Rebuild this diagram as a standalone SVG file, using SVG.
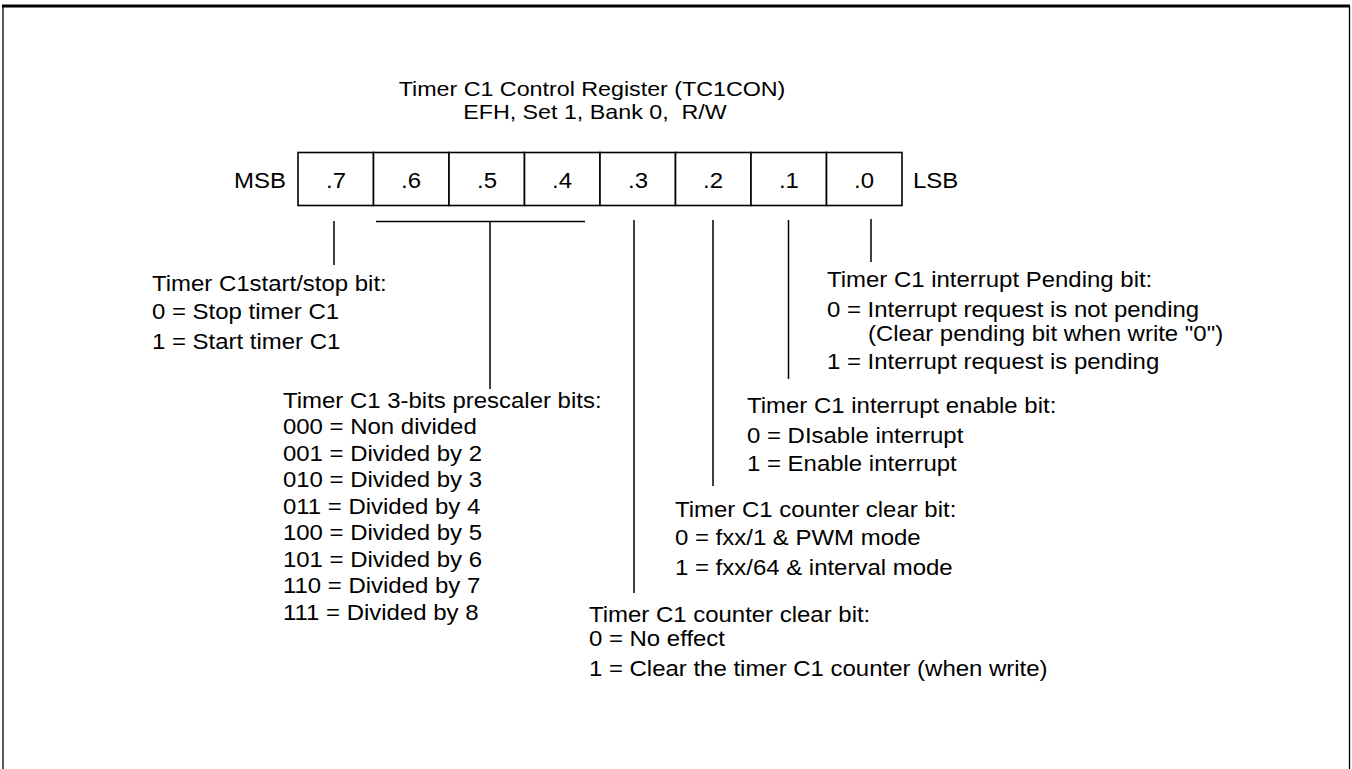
<svg xmlns="http://www.w3.org/2000/svg" width="1352" height="769" viewBox="0 0 1352 769">
<style>
text{font-family:"Liberation Sans",Arial,sans-serif;font-size:22.5px;fill:#000}
.t{font-size:20.5px}
.c{text-anchor:middle}
.cell{fill:#fff;stroke:#000;stroke-width:1.6}
.ln{stroke:#000;stroke-width:1.5;fill:none}
.fr{stroke:#000;fill:none}
</style>
<rect width="1352" height="769" fill="#fff"/>
<g id="frame">
<line class="fr" x1="2" y1="6" x2="1350" y2="6" stroke-width="3"/>
<line class="fr" x1="3" y1="6" x2="3" y2="769" stroke-width="1.3"/>
<line class="fr" x1="1349.5" y1="6" x2="1349.5" y2="769" stroke-width="1.3"/>
</g>
<g id="title" transform="scale(1.135,1)">
<text class="t c" x="521.6" y="96.5">Timer C1 Control Register (TC1CON)</text>
<text class="t c" x="524.2" y="119.5" xml:space="preserve">EFH, Set 1, Bank 0,  R/W</text>
</g>
<g id="register">
<rect class="cell" x="298" y="152.5" width="75.5" height="53"/>
<rect class="cell" x="373.5" y="152.5" width="75.5" height="53"/>
<rect class="cell" x="449" y="152.5" width="75.5" height="53"/>
<rect class="cell" x="524.5" y="152.5" width="75.5" height="53"/>
<rect class="cell" x="600" y="152.5" width="75.5" height="53"/>
<rect class="cell" x="675.5" y="152.5" width="75.5" height="53"/>
<rect class="cell" x="751" y="152.5" width="75.5" height="53"/>
<rect class="cell" x="826.5" y="152.5" width="75.5" height="53"/>
<g transform="scale(1.065,1)">
<text x="268.5" y="188" text-anchor="end">MSB</text>
<text class="c" x="315.5" y="188">.7</text>
<text class="c" x="385.9" y="188">.6</text>
<text class="c" x="457.3" y="188">.5</text>
<text class="c" x="527.7" y="188">.4</text>
<text class="c" x="599.1" y="188">.3</text>
<text class="c" x="669.5" y="188">.2</text>
<text class="c" x="740.8" y="188">.1</text>
<text class="c" x="811.3" y="188">.0</text>
<text x="857.3" y="188">LSB</text>
</g>
</g>
<g id="connectors">
<line class="ln" x1="334" y1="221" x2="334" y2="265"/>
<line class="ln" x1="376" y1="221.5" x2="585" y2="221.5"/>
<line class="ln" x1="490" y1="221.5" x2="490" y2="389"/>
<line class="ln" x1="634" y1="220" x2="634" y2="593"/>
<line class="ln" x1="713" y1="220" x2="713" y2="486"/>
<line class="ln" x1="788.5" y1="220" x2="788.5" y2="379"/>
<line class="ln" x1="871" y1="219" x2="871" y2="262"/>
</g>
<g transform="scale(1.065,1)">
<g id="bit7">
<text x="142.7" y="291">Timer C1start/stop bit:</text>
<text x="142.7" y="319">0 = Stop timer C1</text>
<text x="142.7" y="349">1 = Start timer C1</text>
</g>
<g id="bits6-4">
<text x="265.7" y="408">Timer C1 3-bits prescaler bits:</text>
<text x="265.7" y="434">000 = Non divided</text>
<text x="265.7" y="461">001 = Divided by 2</text>
<text x="265.7" y="487.5">010 = Divided by 3</text>
<text x="265.7" y="514">011 = Divided by 4</text>
<text x="265.7" y="540.5">100 = Divided by 5</text>
<text x="265.7" y="567">101 = Divided by 6</text>
<text x="265.7" y="593.5">110 = Divided by 7</text>
<text x="265.7" y="620">111 = Divided by 8</text>
</g>
<g id="bit3">
<text x="553" y="622">Timer C1 counter clear bit:</text>
<text x="553" y="646">0 = No effect</text>
<text x="553" y="676">1 = Clear the timer C1 counter (when write)</text>
</g>
<g id="bit2">
<text x="633.8" y="517">Timer C1 counter clear bit:</text>
<text x="633.8" y="545">0 = fxx/1 &amp; PWM mode</text>
<text x="633.8" y="575">1 = fxx/64 &amp; interval mode</text>
</g>
<g id="bit1">
<text x="701.4" y="413">Timer C1 interrupt enable bit:</text>
<text x="701.4" y="443">0 = DIsable interrupt</text>
<text x="701.4" y="471">1 = Enable interrupt</text>
</g>
<g id="bit0">
<text x="776.5" y="287">Timer C1 interrupt Pending bit:</text>
<text x="776.5" y="317">0 = Interrupt request is not pending</text>
<text x="815" y="341">(Clear pending bit when write "0")</text>
<text x="776.5" y="369">1 = Interrupt request is pending</text>
</g>
</g>
</svg>
